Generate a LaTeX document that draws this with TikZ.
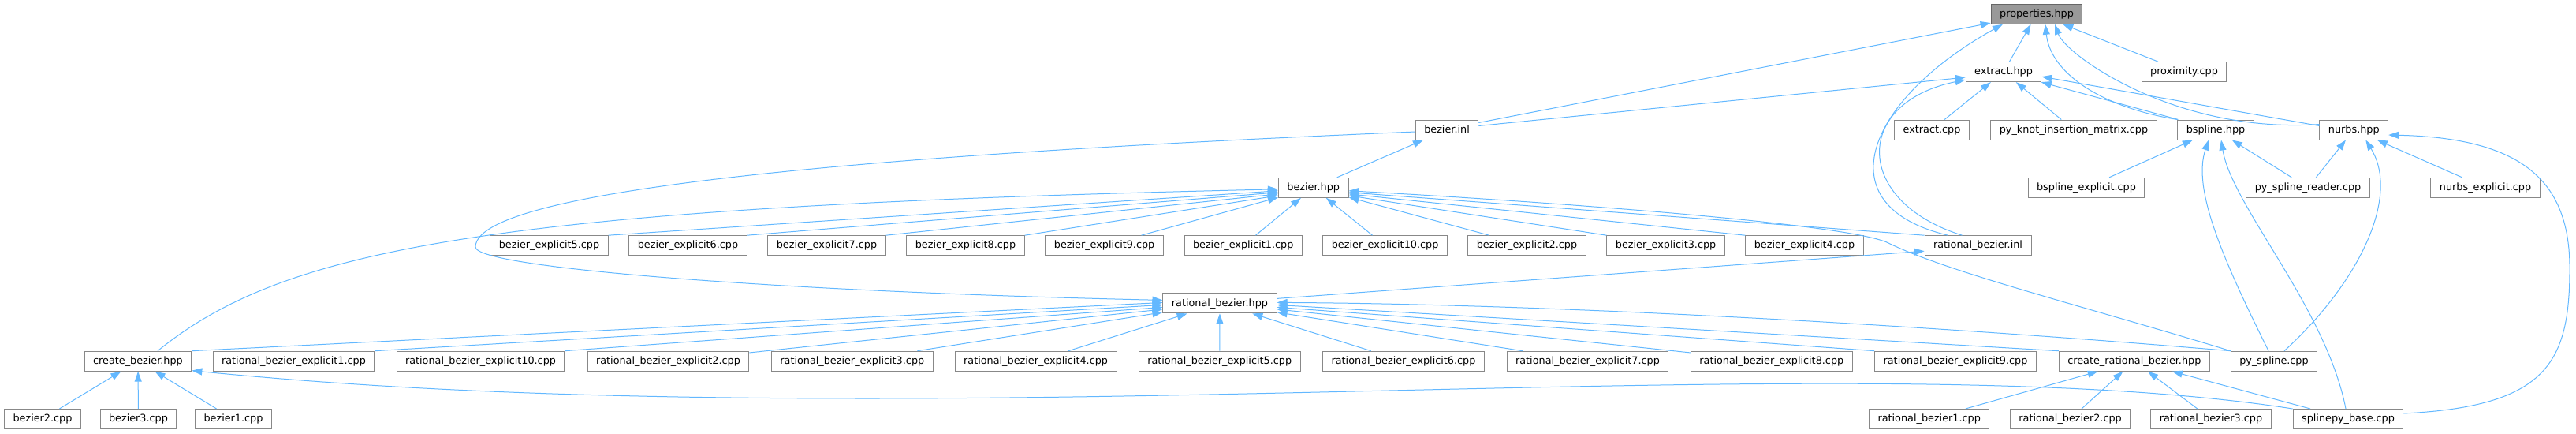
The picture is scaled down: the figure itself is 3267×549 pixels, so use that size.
\documentclass[tikz,border=0pt]{standalone}
\usepackage{fontspec}
\setmainfont{DejaVu Sans}
\usetikzlibrary{arrows.meta}
\definecolor{edgeblue}{HTML}{63B8FF}
\definecolor{boxgray}{HTML}{888888}
\definecolor{rootfill}{HTML}{999999}
\definecolor{rootline}{HTML}{666666}

\begin{document}
\begin{tikzpicture}[x=1pt, y=1pt,
    file/.style={rectangle, draw=boxgray, fill=white, line width=1pt, inner xsep=11pt, inner ysep=0pt, minimum height=25pt, text height=9.6pt, text depth=2.4pt, font=\fontsize{12.8}{15}\selectfont},
    rootfile/.style={file, draw=rootline, fill=rootfill},
    inc/.style={draw=edgeblue, line width=1pt, -{Triangle[length=13pt, width=9pt]}}]
    \useasboundingbox (0,0) rectangle (3267,-549);

    \node (properties) [rootfile] at (2583,-17.8) {properties.hpp};

    \node (extracthpp) [file] at (2541,-91.1) {extract.hpp};
    \node (proximity) [file] at (2770,-91.1) {proximity.cpp};

    \node (bezierinl) [file] at (1835,-164.5) {bezier.inl};
    \node (extractcpp) [file] at (2450,-164.5) {extract.cpp};
    \node (pyknot) [file] at (2630,-164.5) {py\_knot\_insertion\_matrix.cpp};
    \node (bsplinehpp) [file] at (2810,-164.5) {bspline.hpp};
    \node (nurbshpp) [file] at (2985.3,-164.5) {nurbs.hpp};

    \node (bezierhpp) [file] at (1665.7,-237.8) {bezier.hpp};
    \node (bsplexpl) [file] at (2646,-237.8) {bspline\_explicit.cpp};
    \node (pysplreader) [file] at (2927,-237.8) {py\_spline\_reader.cpp};
    \node (nurbsexpl) [file] at (3152,-237.8) {nurbs\_explicit.cpp};

    \node (bezexpl5) [file] at (696.5,-311.2) {bezier\_explicit5.cpp};
    \node (bezexpl6) [file] at (872.5,-311.2) {bezier\_explicit6.cpp};
    \node (bezexpl7) [file] at (1048.5,-311.2) {bezier\_explicit7.cpp};
    \node (bezexpl8) [file] at (1224.5,-311.2) {bezier\_explicit8.cpp};
    \node (bezexpl9) [file] at (1400.6,-311.2) {bezier\_explicit9.cpp};
    \node (bezexpl1) [file] at (1576.7,-311.2) {bezier\_explicit1.cpp};
    \node (bezexpl10) [file] at (1756.6,-311.2) {bezier\_explicit10.cpp};
    \node (bezexpl2) [file] at (1936.5,-311.2) {bezier\_explicit2.cpp};
    \node (bezexpl3) [file] at (2112.6,-311.2) {bezier\_explicit3.cpp};
    \node (bezexpl4) [file] at (2288.5,-311.2) {bezier\_explicit4.cpp};
    \node (ratbezinl) [file] at (2508.5,-311.2) {rational\_bezier.inl};

    \node (ratbezhpp) [file] at (1547,-384.4) {rational\_bezier.hpp};

    \node (createbezier) [file] at (175,-457.7) {create\_bezier.hpp};
    \node (ratbezexpl1) [file] at (372.5,-457.7) {rational\_bezier\_explicit1.cpp};
    \node (ratbezexpl10) [file] at (609.5,-457.7) {rational\_bezier\_explicit10.cpp};
    \node (ratbezexpl2) [file] at (847.5,-457.7) {rational\_bezier\_explicit2.cpp};
    \node (ratbezexpl3) [file] at (1080.8,-457.7) {rational\_bezier\_explicit3.cpp};
    \node (ratbezexpl4) [file] at (1313.6,-457.7) {rational\_bezier\_explicit4.cpp};
    \node (ratbezexpl5) [file] at (1546.7,-457.7) {rational\_bezier\_explicit5.cpp};
    \node (ratbezexpl6) [file] at (1780,-457.7) {rational\_bezier\_explicit6.cpp};
    \node (ratbezexpl7) [file] at (2013.5,-457.7) {rational\_bezier\_explicit7.cpp};
    \node (ratbezexpl8) [file] at (2246.8,-457.7) {rational\_bezier\_explicit8.cpp};
    \node (ratbezexpl9) [file] at (2480,-457.7) {rational\_bezier\_explicit9.cpp};
    \node (createratbezier) [file] at (2706.8,-457.7) {create\_rational\_bezier.hpp};
    \node (pyspline) [file] at (2884,-457.7) {py\_spline.cpp};

    \node (bezier2) [file] at (54,-531) {bezier2.cpp};
    \node (bezier3) [file] at (175.5,-531) {bezier3.cpp};
    \node (bezier1) [file] at (296,-531) {bezier1.cpp};
    \node (ratbezier1) [file] at (2446.7,-531) {rational\_bezier1.cpp};
    \node (ratbezier2) [file] at (2625.6,-531) {rational\_bezier2.cpp};
    \node (ratbezier3) [file] at (2804,-531) {rational\_bezier3.cpp};
    \node (splinepybase) [file] at (2978,-531) {splinepy\_base.cpp};

    \draw [inc] ([yshift=9pt]bezierinl.east) -- (properties);
    \draw [inc] ([xshift=-38pt]ratbezinl.north) .. controls (2310,-260) and (2370,-125) .. ([xshift=-43pt]properties.south);
    \draw [inc] (extracthpp) -- (properties);
    \draw [inc] (bsplinehpp.north west) .. controls (2660,-135) and (2600,-90) .. ([xshift=11pt]properties.south);
    \draw [inc] ([yshift=7pt]nurbshpp.west) .. controls (2760,-170) and (2620,-70) .. ([xshift=23pt]properties.south);
    \draw [inc] (proximity) -- (properties);

    \draw [inc] ([yshift=5pt]bezierinl.east) -- ([yshift=-7pt]extracthpp.west);
    \draw [inc] ([xshift=-20pt]ratbezinl.north) .. controls (2350,-255) and (2350,-130) .. ([yshift=-10pt]extracthpp.west);
    \draw [inc] (extractcpp) -- (extracthpp);
    \draw [inc] (pyknot) -- (extracthpp);
    \draw [inc] (bsplinehpp) -- (extracthpp);
    \draw [inc] ([yshift=5pt]nurbshpp.west) -- ([yshift=-6pt]extracthpp.east);

    \draw [inc] (bezierhpp) -- (bezierinl);
    \draw [inc] ([yshift=-2.5pt]bezierinl.west) .. controls (1250,-190) and (603,-230) .. (603,-313) .. controls (603,-340) and (1000,-370) .. ([yshift=4pt]ratbezhpp.west);

    \draw [inc] ([xshift=25pt]createbezier.north) .. controls (360,-315) and (620,-262) .. ([yshift=-2pt]bezierhpp.west);
    \draw [inc] (bezexpl5.north east) -- ([yshift=-4pt]bezierhpp.west);
    \draw [inc] (bezexpl6.north east) -- ([yshift=-6pt]bezierhpp.west);
    \draw [inc] (bezexpl7.north east) -- ([yshift=-8pt]bezierhpp.west);
    \draw [inc] (bezexpl8.north east) -- ([yshift=-10pt]bezierhpp.west);
    \draw [inc] (bezexpl9) -- (bezierhpp);
    \draw [inc] (bezexpl1) -- (bezierhpp);
    \draw [inc] (bezexpl10) -- (bezierhpp);
    \draw [inc] (bezexpl2) -- (bezierhpp);
    \draw [inc] (bezexpl3.north west) -- ([yshift=-10pt]bezierhpp.east);
    \draw [inc] (bezexpl4.north west) -- ([yshift=-8pt]bezierhpp.east);
    \draw [inc] (ratbezinl.north west) -- ([yshift=-6pt]bezierhpp.east);
    \draw [inc] (pyspline.north west) .. controls (2650,-390) and (2470,-345) .. (2395,-308) .. controls (2340,-281) and (1900,-252) .. ([yshift=-4pt]bezierhpp.east);

    \draw [inc] (createbezier.north east) -- ([yshift=1pt]ratbezhpp.west);
    \draw [inc] (ratbezexpl1.north east) -- ([yshift=-2pt]ratbezhpp.west);
    \draw [inc] (ratbezexpl10.north east) -- ([yshift=-5pt]ratbezhpp.west);
    \draw [inc] (ratbezexpl2) -- (ratbezhpp);
    \draw [inc] (ratbezexpl3) -- (ratbezhpp);
    \draw [inc] (ratbezexpl4) -- (ratbezhpp);
    \draw [inc] (ratbezexpl5) -- (ratbezhpp);
    \draw [inc] (ratbezexpl6) -- (ratbezhpp);
    \draw [inc] (ratbezexpl7) -- (ratbezhpp);
    \draw [inc] (ratbezexpl8) -- (ratbezhpp);
    \draw [inc] (ratbezexpl9.north west) -- ([yshift=-5pt]ratbezhpp.east);
    \draw [inc] (createratbezier.north west) -- ([yshift=-2pt]ratbezhpp.east);
    \draw [inc] (pyspline.north west) .. controls (2420,-410) and (1950,-385) .. ([yshift=1pt]ratbezhpp.east);
    \draw [inc] ([yshift=6pt]ratbezhpp.east) -- ([yshift=-7pt]ratbezinl.west);

    \draw [inc] (bsplexpl) -- (bsplinehpp);
    \draw [inc] (pysplreader) -- (bsplinehpp);
    \draw [inc] ([xshift=-7pt]pyspline.north) .. controls (2820,-330) and (2780,-240) .. ([xshift=-9pt]bsplinehpp.south);
    \draw [inc] ([xshift=-3pt]splinepybase.north) .. controls (2950,-390) and (2830,-260) .. ([xshift=7pt]bsplinehpp.south);

    \draw [inc] (pysplreader) -- (nurbshpp);
    \draw [inc] (nurbsexpl) -- (nurbshpp);
    \draw [inc] ([xshift=13pt]pyspline.north) .. controls (2990,-360) and (3045,-250) .. ([xshift=15pt]nurbshpp.south);
    \draw [inc] ([yshift=7pt]splinepybase.east) .. controls (3230,-515) and (3259,-460) .. (3259,-340) .. controls (3259,-230) and (3200,-175) .. ([yshift=-6.5pt]nurbshpp.east);

    \draw [inc] (bezier2) -- (createbezier);
    \draw [inc] (bezier3) -- (createbezier);
    \draw [inc] (bezier1) -- (createbezier);
    \draw [inc] (splinepybase.north west) .. controls (2500,-455) and (1800,-505) .. (1100,-505) .. controls (700,-505) and (450,-490) .. ([yshift=-12pt]createbezier.east);

    \draw [inc] (ratbezier1) -- (createratbezier);
    \draw [inc] (ratbezier2) -- (createratbezier);
    \draw [inc] (ratbezier3) -- (createratbezier);
    \draw [inc] (splinepybase) -- (createratbezier);
\end{tikzpicture}
\end{document}
